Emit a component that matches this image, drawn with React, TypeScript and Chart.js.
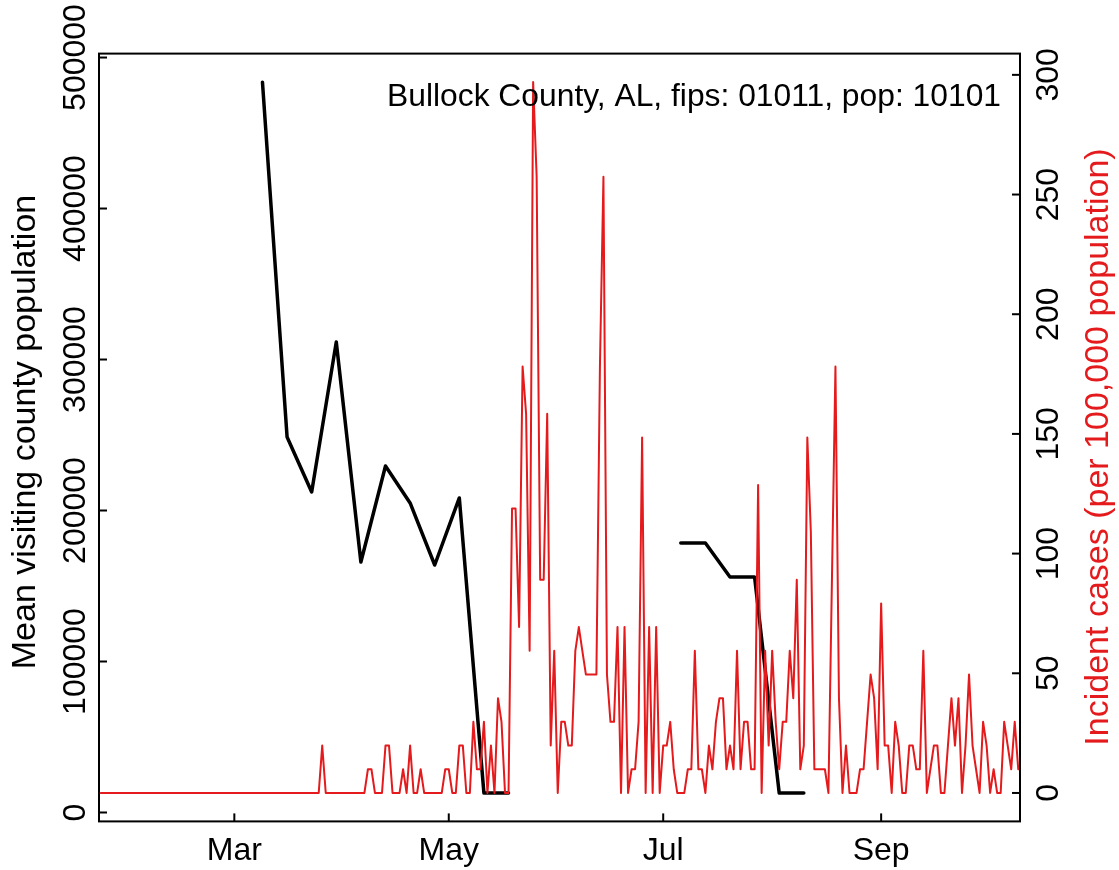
import React, { useEffect, useRef } from 'react';
import { Chart, registerables } from 'chart.js';

Chart.register(...registerables);

const W = 1119;
const H = 870;
const FONT = '"Liberation Sans", Arimo, Arial, Helvetica, sans-serif';
const RED = '#E41A1C';

// Day numbers count from 2020-01-01 (= day 0)
const monthTickDays = [60, 121, 182, 244];
const monthTickLabels = ['Mar', 'May', 'Jul', 'Sep'];
const leftTicks = [0, 100000, 200000, 300000, 400000, 500000];
const rightTicks = [0, 50, 100, 150, 200, 250, 300];

const titleText = 'Bullock County, AL, fips: 01011, pop: 10101';
const leftAxisTitle = 'Mean visiting county population';
const rightAxisTitle = 'Incident cases (per 100,000 population)';

// weekly mean visiting county population (black)
const mobilityStartDay = 68;
const mobilityStepDays = 7;
const mobilityValues: (number | null)[] = [
  483700, 248700, 212300, 311600, 165900, 229500, 205000, 163900, 208300, 12900, 12900,
  null, null, null, null, null, null,
  178500, 178500, 156000, 156000, 12900, 12900,
];

// daily incident cases per 100,000 (red)
const caseStartDay = 22;
const caseValues: number[] = [
  // d22 - d84
  0, 0, 0, 0, 0, 0, 0, 0, 0, 0, 0, 0, 0, 0, 0, 0, 0, 0, 0, 0, 0,
  0, 0, 0, 0, 0, 0, 0, 0, 0, 0, 0, 0, 0, 0, 0, 0, 0, 0, 0, 0, 0,
  0, 0, 0, 0, 0, 0, 0, 0, 0, 0, 0, 0, 0, 0, 0, 0, 0, 0, 0, 0, 0,
  // d85 - d97
  19.8, 0, 0, 0, 0, 0, 0, 0, 0, 0, 0, 0, 0,
  // d98 - d119
  9.9, 9.9, 0, 0, 0, 19.8, 19.8, 0, 0, 0, 9.9, 0, 19.8, 0, 0, 9.9, 0, 0, 0, 0, 0, 0,
  // d120 - d138
  9.9, 9.9, 0, 0, 19.8, 19.8, 0, 0, 29.7, 9.9, 9.9, 29.7, 0, 19.8, 0, 39.6, 29.7, 0, 0,
  // d139 - d159
  118.8, 118.8, 69.3, 178.2, 158.4, 59.4, 297, 257.4, 89.1, 89.1, 158.4, 19.8, 59.4, 0, 29.7, 29.7, 19.8, 19.8, 59.4, 69.3, 59.4,
  // d160 - d181
  49.5, 49.5, 49.5, 49.5, 178.2, 257.4, 49.5, 29.7, 29.7, 69.3, 0, 69.3, 0, 9.9, 9.9, 29.7, 148.5, 0, 69.3, 0, 69.3, 0,
  // d182 - d208
  19.8, 19.8, 29.7, 9.9, 0, 0, 0, 9.9, 9.9, 59.4, 9.9, 9.9, 0, 19.8, 9.9, 29.7, 39.6, 39.6, 9.9, 19.8, 9.9, 59.4, 9.9, 29.7, 29.7, 9.9, 9.9,
  // d209 - d233
  128.7, 0, 59.4, 19.8, 59.4, 29.7, 9.9, 29.7, 29.7, 59.4, 39.6, 89.1, 9.9, 19.8, 148.5, 108.9, 9.9, 9.9, 9.9, 9.9, 0, 89.1, 178.2, 39.6, 0,
  // d234 - d260
  19.8, 0, 0, 0, 9.9, 9.9, 29.7, 49.5, 39.6, 9.9, 79.2, 19.8, 19.8, 0, 29.7, 19.8, 0, 0, 19.8, 19.8, 9.9, 9.9, 59.4, 0, 9.9, 19.8, 19.8,
  // d261 - d284
  0, 0, 19.8, 39.6, 19.8, 39.6, 0, 19.8, 49.5, 19.8, 9.9, 0, 29.7, 19.8, 0, 9.9, 0, 0, 29.7, 19.8, 9.9, 29.7, 9.9, 9.9,
];

const decorPlugin = {
  id: 'rStyleDecor',
  afterDraw(chart: any) {
    const { ctx, chartArea: a, scales } = chart;
    ctx.save();
    ctx.strokeStyle = '#000';
    ctx.lineWidth = 2;
    ctx.strokeRect(a.left, a.top, a.right - a.left, a.bottom - a.top);

    const tickLen = 8;
    ctx.fillStyle = '#000';
    ctx.font = `32px ${FONT}`;

    // x axis ticks + labels
    ctx.textAlign = 'center';
    ctx.textBaseline = 'alphabetic';
    scales.x.ticks.forEach((t: any) => {
      const px = scales.x.getPixelForValue(t.value);
      ctx.beginPath();
      ctx.moveTo(px, a.bottom);
      ctx.lineTo(px, a.bottom - tickLen);
      ctx.stroke();
      const idx = monthTickDays.indexOf(t.value);
      ctx.fillText(monthTickLabels[idx], px, 860);
    });

    // left axis
    scales.yL.ticks.forEach((t: any) => {
      const py = scales.yL.getPixelForValue(t.value);
      ctx.beginPath();
      ctx.moveTo(a.left, py);
      ctx.lineTo(a.left + tickLen, py);
      ctx.stroke();
      ctx.save();
      ctx.translate(85, py);
      ctx.rotate(-Math.PI / 2);
      ctx.fillText(String(t.value), 0, 0);
      ctx.restore();
    });

    // right axis
    scales.yR.ticks.forEach((t: any) => {
      const py = scales.yR.getPixelForValue(t.value);
      ctx.beginPath();
      ctx.moveTo(a.right, py);
      ctx.lineTo(a.right - tickLen, py);
      ctx.stroke();
      ctx.save();
      ctx.translate(1058, py);
      ctx.rotate(-Math.PI / 2);
      ctx.fillText(String(t.value), 0, 0);
      ctx.restore();
    });

    ctx.font = `34px ${FONT}`;
    ctx.save();
    ctx.translate(35, 432);
    ctx.rotate(-Math.PI / 2);
    ctx.fillStyle = '#000';
    ctx.fillText(leftAxisTitle, 0, 0);
    ctx.restore();

    ctx.save();
    ctx.translate(1107.5, 447);
    ctx.rotate(-Math.PI / 2);
    ctx.fillStyle = RED;
    ctx.fillText(rightAxisTitle, 0, 0);
    ctx.restore();

    ctx.font = `31.8px ${FONT}`;
    ctx.textAlign = 'right';
    ctx.fillStyle = '#000';
    ctx.fillText(titleText, 1001, 106);
    ctx.restore();
  },
};

export default function App() {
  const ref = useRef<HTMLCanvasElement | null>(null);

  useEffect(() => {
    const canvas = ref.current;
    if (!canvas) return;
    const chart = new Chart(canvas, {
      type: 'line',
      data: {
        datasets: [
          {
            label: 'Incident cases',
            data: caseValues.map((v, i) => ({ x: caseStartDay + i, y: v })),
            borderColor: RED,
            backgroundColor: RED,
            borderWidth: 2,
            pointRadius: 0,
            tension: 0,
            borderCapStyle: 'round',
            borderJoinStyle: 'round',
            yAxisID: 'yR',
            order: 0,
          },
          {
            label: 'Mean visiting county population',
            data: mobilityValues.map((v, i) => ({ x: mobilityStartDay + i * mobilityStepDays, y: v })),
            borderColor: '#000',
            backgroundColor: '#000',
            borderWidth: 3.5,
            pointRadius: 0,
            tension: 0,
            spanGaps: false,
            borderCapStyle: 'round',
            borderJoinStyle: 'round',
            yAxisID: 'yL',
            order: 1,
          },
        ],
      },
      options: {
        responsive: false,
        animation: false,
        devicePixelRatio: 1,
        layout: { padding: { top: 53.6, left: 0, right: 0, bottom: 0 } },
        plugins: { legend: { display: false }, tooltip: { enabled: false } },
        scales: {
          x: {
            type: 'linear',
            min: 21.5,
            max: 283.5,
            grid: { display: false },
            border: { display: false },
            ticks: { display: false },
            afterBuildTicks: (s: any) => {
              s.ticks = monthTickDays.map((v) => ({ value: v }));
            },
            afterFit: (s: any) => {
              s.height = 48.6;
            },
          },
          yL: {
            type: 'linear',
            position: 'left',
            min: -5900,
            max: 502600,
            grid: { display: false },
            border: { display: false },
            ticks: { display: false },
            afterBuildTicks: (s: any) => {
              s.ticks = leftTicks.map((v) => ({ value: v }));
            },
            afterFit: (s: any) => {
              s.width = 99;
            },
          },
          yR: {
            type: 'linear',
            position: 'right',
            min: -11.88,
            max: 308.88,
            grid: { display: false },
            border: { display: false },
            ticks: { display: false },
            afterBuildTicks: (s: any) => {
              s.ticks = rightTicks.map((v) => ({ value: v }));
            },
            afterFit: (s: any) => {
              s.width = 99;
            },
          },
        },
      },
      plugins: [decorPlugin],
    } as any);
    return () => chart.destroy();
  }, []);

  return (
    <div style={{ position: 'absolute', left: 0, top: 0, width: W, height: H, background: '#fff' }}>
      <canvas ref={ref} width={W} height={H} style={{ width: W, height: H, display: 'block' }} />
    </div>
  );
}
